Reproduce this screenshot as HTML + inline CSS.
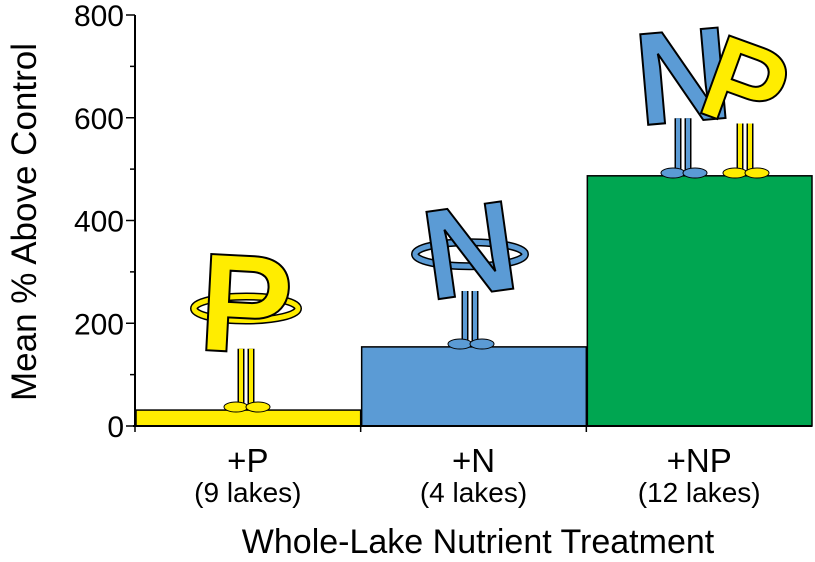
<!DOCTYPE html>
<html><head><meta charset="utf-8"><style>
body{margin:0;background:#fff;width:815px;height:562px;overflow:hidden}
svg{display:block}
text{font-family:"Liberation Sans",Arial,sans-serif}
</style></head><body>
<svg id="chart" width="815" height="562">
<g id="cartoons"></g>
</svg>
<script>
const categories=["+P","+N","+NP"];
const lakes=["(9 lakes)","(4 lakes)","(12 lakes)"];
const values=[31,154,487];
const colors=["#ffed00","#5b9bd5","#00a651"];
const yTicks=[0,200,400,600,800];
const yMinor=[100,300,500,700];
const NS="http://www.w3.org/2000/svg";
const svg=document.getElementById('chart');
const X0=135,X1=812,Y0=426,Y1=15,YMAX=800;
const y=v=>Y0-(v/YMAX)*(Y0-Y1);
const bw=(X1-X0)/categories.length;
const x=i=>X0+i*bw;
function mk(t,a,p){const e=document.createElementNS(NS,t);for(const k in a)e.setAttribute(k,a[k]);(p||svg).appendChild(e);return e;}
values.forEach((v,i)=>{
 const r=mk('rect',{x:x(i)+1,y:y(v),width:bw-1,height:Y0-y(v),fill:colors[i],stroke:'#000','stroke-width':1.5});
 
 
 const t=mk('text',{x:x(i)+bw/2,y:472,'text-anchor':'middle','font-size':33});t.textContent=categories[i];
 
 
 const t2=mk('text',{x:x(i)+bw/2,y:502,'text-anchor':'middle','font-size':28});t2.textContent=lakes[i];
 
 
 if(i>0){mk('line',{x1:x(i),x2:x(i),y1:Y0,y2:Y0+6,stroke:'#000','stroke-width':1.5});}
});
const ax=mk('line',{x1:X0,x2:X0,y1:Y1,y2:Y0,stroke:'#000','stroke-width':2});

const bx=mk('line',{x1:X0-2,x2:X1,y1:Y0,y2:Y0,stroke:'#000','stroke-width':2});

mk('line',{x1:X0,x2:X0,y1:Y0,y2:Y0+6,stroke:'#000','stroke-width':1.5});
yTicks.forEach(v=>{
 mk('line',{x1:X0-9,x2:X0,y1:y(v),y2:y(v),stroke:'#000','stroke-width':1.5});
 const t=mk('text',{x:X0-11,y:y(v)+11,'text-anchor':'end','font-size':30});t.textContent=v;
 
});
yMinor.forEach(v=>mk('line',{x1:X0-5,x2:X0,y1:y(v),y2:y(v),stroke:'#000','stroke-width':1.5}));
const yt=mk('text',{x:0,y:0,transform:'translate(36,222) rotate(-90)','text-anchor':'middle','font-size':35});
yt.textContent='Mean % Above Control';
const xt=mk('text',{x:478,y:553,'text-anchor':'middle','font-size':34});
xt.textContent='Whole-Lake Nutrient Treatment';
const g=document.getElementById('cartoons');
svg.appendChild(g);
function letter(ch,cx,base,h,fill,rot,arms){
 const grp=mk('g',{transform:`translate(${cx},${base})`},g);
 [-5,5].forEach(dx=>{
  mk('line',{x1:dx,y1:-h*0.35,x2:dx,y2:-3,stroke:'#000','stroke-width':7},grp);
  mk('line',{x1:dx,y1:-h*0.35,x2:dx,y2:-3,stroke:fill,'stroke-width':4},grp);
 });
 mk('ellipse',{cx:-10,cy:-3,rx:12,ry:5,fill:fill,stroke:'#000'},grp);
 mk('ellipse',{cx:12,cy:-3,rx:12,ry:5,fill:fill,stroke:'#000'},grp);
 if(arms){mk('ellipse',{cx:0,cy:-h*0.58,rx:arms,ry:12,fill:'none',stroke:'#000','stroke-width':8},grp);
  mk('ellipse',{cx:0,cy:-h*0.58,rx:arms,ry:12,fill:'none',stroke:fill,'stroke-width':5},grp);}
 const t=mk('text',{x:0,y:-h*0.33,'text-anchor':'middle','font-size':h*0.8,'font-weight':'bold',stroke:'#000','stroke-width':2,transform:`rotate(${rot} 0 ${-h*0.6})`},grp);
 t.setAttribute('style','fill:'+fill);
 t.textContent=ch;
}
letter('P',246,410,175,'#ffed00',3,52);
letter('N',470,347,160,'#5b9bd5',-8,55);
letter('N',683,176,165,'#5b9bd5',-5,0);
letter('P',745,176,150,'#ffed00',20,0);
</script>
</body></html>
